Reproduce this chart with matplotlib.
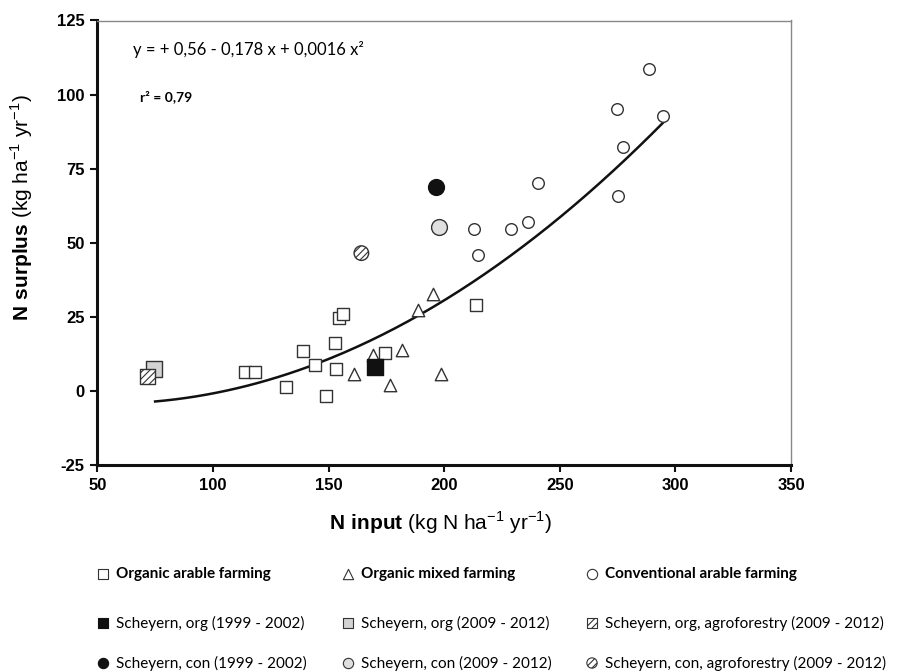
import numpy as np
import matplotlib
matplotlib.use('Agg')
import matplotlib.pyplot as plt

plt.rcParams['font.family'] = ['Liberation Sans', 'DejaVu Sans']
plt.rcParams['axes.unicode_minus'] = False
plt.rcParams['mathtext.fontset'] = 'custom'
plt.rcParams['mathtext.rm'] = 'Liberation Sans'
plt.rcParams['mathtext.bf'] = 'Liberation Sans:bold'
plt.rcParams['hatch.linewidth'] = 0.8

# Datos
org_arable_x = [113.8, 118.1, 154.5, 156.3, 152.8, 139.0, 144.0, 153.2, 131.8, 148.8, 174.3, 213.9]
org_arable_y = [6.4, 6.4, 24.5, 25.9, 16.3, 13.6, 8.7, 7.5, 1.2, -1.7, 12.8, 29.0]

org_mixed_x = [195.1, 188.7, 169.3, 181.8, 160.9, 176.4, 198.8]
org_mixed_y = [32.7, 27.3, 12.1, 13.8, 5.7, 2.0, 5.7]

conv_x = [274.6, 294.7, 277.5, 240.8, 275.4, 212.9, 229.1, 236.3, 214.6, 288.8]
conv_y = [95.0, 92.8, 82.4, 70.1, 65.9, 54.7, 54.6, 57.1, 45.8, 108.5]

# Scheyern
sch_org_9902 = (170.3, 8.0)
sch_org_0912 = (74.5, 7.3)
sch_org_agro = (71.8, 4.8)
sch_con_9902 = (196.6, 68.9)
sch_con_0912 = (197.7, 55.4)
sch_con_agro = (164.2, 46.5)

# Ajuste cuadrático (coeficientes redondeados en la etiqueta)
coef = [0.56, -0.178, 0.00164]
x_fit_min, x_fit_max = 75, 295

fig = plt.figure(figsize=(9.15, 6.72), dpi=100)
W, H = 915, 672
ax = fig.add_axes([97.3 / W, 1 - 465 / H, (791 - 97.3) / W, (465 - 20.5) / H])

xf = np.linspace(x_fit_min, x_fit_max, 200)
yf = coef[0] + coef[1] * xf + coef[2] * xf ** 2
ax.plot(xf, yf, color='#111111', lw=1.8, zorder=2)

ec = '#333333'
ax.scatter(org_arable_x, org_arable_y, marker='s', s=70, facecolor='white', edgecolor=ec, lw=1.0, zorder=3)
ax.scatter(org_mixed_x, org_mixed_y, marker='^', s=80, facecolor='white', edgecolor=ec, lw=1.0, zorder=3)
ax.scatter(conv_x, conv_y, marker='o', s=70, facecolor='white', edgecolor=ec, lw=1.0, zorder=3)

ax.scatter(*sch_org_0912, marker='s', s=125, facecolor='#d3d3d3', edgecolor=ec, lw=1.0, zorder=4)
ax.scatter(*sch_org_agro, marker='s', s=110, facecolor='white', edgecolor=ec, lw=1.0, hatch='/////', zorder=5)
ax.scatter(*sch_org_9902, marker='s', s=125, facecolor='#111111', edgecolor='#111111', lw=1.0, zorder=4)
ax.scatter(*sch_con_9902, marker='o', s=130, facecolor='#111111', edgecolor='#111111', lw=1.0, zorder=4)
ax.scatter(*sch_con_0912, marker='o', s=130, facecolor='#e0e0e0', edgecolor=ec, lw=1.0, zorder=4)
ax.scatter(*sch_con_agro, marker='o', s=110, facecolor='white', edgecolor=ec, lw=1.0, hatch='/////', zorder=4)

ax.set_xlim(50, 350)
ax.set_ylim(-25, 125)
ax.set_xticks(np.arange(50, 351, 50))
ax.set_yticks(np.arange(-25, 126, 25))
for lab in ax.get_xticklabels() + ax.get_yticklabels():
    lab.set_fontweight('bold')
    lab.set_fontsize(12)
ax.tick_params(direction='out', length=5, width=1.5, color='#111111', pad=4)
ax.spines['left'].set_linewidth(2.2)
ax.spines['bottom'].set_linewidth(2.2)
ax.spines['left'].set_color('#111111')
ax.spines['bottom'].set_color('#111111')
ax.spines['top'].set_color('#888888')
ax.spines['right'].set_color('#888888')
ax.spines['top'].set_linewidth(1.0)
ax.spines['right'].set_linewidth(1.0)

fig.text(441 / W, 1 - 523 / H, r'$\mathbf{N\ input}$ (kg N ha$^{-1}$ yr$^{-1}$)',
         ha='center', va='center', fontsize=15)
fig.text(22 / W, 1 - 208 / H, r'$\mathbf{N\ surplus}$ (kg ha$^{-1}$ yr$^{-1}$)',
         ha='center', va='center', rotation=90, fontsize=15)

lf = ['Lato', 'DejaVu Sans']
fig.text(133 / W, 1 - 50 / H, 'y = + 0,56 - 0,178 x + 0,0016 x²', fontsize=12,
         family=lf, va='center', ha='left')
fig.text(140 / W, 1 - 97 / H, 'r² = 0,79', fontsize=10, fontweight='bold',
         family=lf, va='center', ha='left')

# Leyenda
lg = fig.add_axes([0, 0, 1, 1], facecolor='none')
lg.set_xlim(0, W)
lg.set_ylim(H, 0)
lg.axis('off')

rows_y = [574, 623, 663]
cols_x = [103, 348, 592]

row1 = [('s', 'white', None, 'Organic arable farming'),
        ('^', 'white', None, 'Organic mixed farming'),
        ('o', 'white', None, 'Conventional arable farming')]
row2 = [('s', '#111111', None, 'Scheyern, org (1999 - 2002)'),
        ('s', '#d3d3d3', None, 'Scheyern, org (2009 - 2012)'),
        ('s', 'white', '/////', 'Scheyern, org, agroforestry (2009 - 2012)')]
row3 = [('o', '#111111', None, 'Scheyern, con (1999 - 2002)'),
        ('o', '#e0e0e0', None, 'Scheyern, con (2009 - 2012)'),
        ('o', 'white', '/////', 'Scheyern, con, agroforestry (2009 - 2012)')]

for r, row in enumerate([row1, row2, row3]):
    for c, (m, fc, h, txt) in enumerate(row):
        x0, y0 = cols_x[c], rows_y[r]
        lg.scatter(x0, y0, marker=m, s=55, facecolor=fc, edgecolor=ec if fc != '#111111' else '#111111',
                   lw=0.8, hatch=h)
        lg.text(x0 + 13, y0, txt, fontsize=11, family=lf, va='center', ha='left',
                fontweight='bold' if r == 0 else 'normal')

fig.savefig('out.png', dpi=100)
